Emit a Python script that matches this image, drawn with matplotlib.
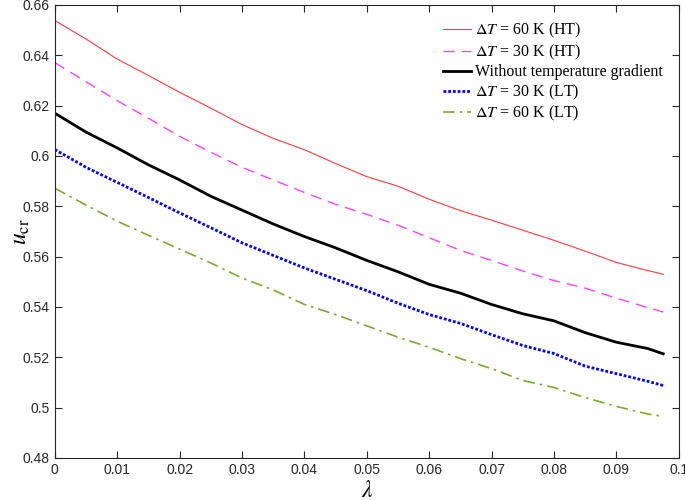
import matplotlib
matplotlib.use('Agg')
import matplotlib.pyplot as plt
import numpy as np

# Data
lam = [0, 0.005, 0.01, 0.015, 0.02, 0.025, 0.03, 0.035, 0.04, 0.045, 0.05,
       0.055, 0.06, 0.065, 0.07, 0.075, 0.08, 0.085, 0.09, 0.095, 0.0975]

ht60 = [0.6538, 0.6465, 0.6385, 0.632, 0.6253, 0.619, 0.6125, 0.607, 0.6025,
        0.597, 0.5918, 0.588, 0.5828, 0.5783, 0.5745, 0.5705, 0.5665, 0.5622,
        0.5577, 0.5545, 0.553]
ht30 = [0.6371, 0.6295, 0.622, 0.615, 0.6078, 0.6015, 0.5955, 0.5905, 0.5855,
        0.5808, 0.5768, 0.5725, 0.5675, 0.5625, 0.5585, 0.5543, 0.5505, 0.5475,
        0.5435, 0.5398, 0.538]
no_grad = [0.617, 0.6095, 0.6032, 0.5965, 0.5905, 0.584, 0.5785, 0.573, 0.568,
           0.5635, 0.5585, 0.554, 0.549, 0.5455, 0.541, 0.5373, 0.5345, 0.5298,
           0.526, 0.5235, 0.5214]
lt30 = [0.6026, 0.5955, 0.5895, 0.5835, 0.5774, 0.5715, 0.5655, 0.5605, 0.5555,
        0.551, 0.5465, 0.5415, 0.537, 0.5335, 0.529, 0.5247, 0.5215, 0.5165,
        0.5135, 0.5105, 0.5088]
lt60 = [0.5872, 0.5805, 0.5741, 0.5685, 0.563, 0.5575, 0.5515, 0.5468, 0.541,
        0.537, 0.5325, 0.528, 0.524, 0.5195, 0.5155, 0.5108, 0.508, 0.504,
        0.5005, 0.4975, 0.4965]

labels = [r'$\Delta T$ = 60 K (HT)', r'$\Delta T$ = 30 K (HT)',
          'Without temperature gradient',
          r'$\Delta T$ = 30 K (LT)', r'$\Delta T$ = 60 K (LT)']

plt.rcParams['mathtext.fontset'] = 'stix'

fig = plt.figure(figsize=(6.85, 5.0), dpi=100)
ax = fig.add_axes([0.080, 0.084, 0.911, 0.906])

ax.plot(lam, ht60, color='#ff3b3b', lw=0.8, label=labels[0])
ax.plot(lam, ht30, color='#ff44ff', lw=1.0, dashes=(8, 5), label=labels[1])
ax.plot(lam, no_grad, color='black', lw=2.0, label=labels[2])
ax.plot(lam, lt30, color='#0000ff', lw=2.0, linestyle=(0, (1, 0.7)), label=labels[3])
ax.plot(lam, lt60, color='#77ac30', lw=1.2, linestyle=(0, (7, 3, 1.5, 3)), label=labels[4])

ax.set_xlim(0, 0.1)
ax.set_ylim(0.48, 0.66)
ax.set_xticks(np.arange(0, 0.1001, 0.01))
ax.set_xticklabels(['0'] + ['%.2f' % v for v in np.arange(0.01, 0.095, 0.01)] + ['0.1'])
ax.set_yticks(np.arange(0.48, 0.6601, 0.02))
ax.set_yticklabels(['0.48', '0.5', '0.52', '0.54', '0.56', '0.58', '0.6', '0.62', '0.64', '0.66'])
ax.tick_params(direction='in', top=True, right=True, length=5, width=0.8,
               labelsize=10, colors='#262626')
for lbl in ax.get_xticklabels() + ax.get_yticklabels():
    lbl.set_family('Liberation Sans')
for s in ax.spines.values():
    s.set_color('#262626')
    s.set_linewidth(0.8)

ax.set_xlabel(r'$\lambda$', fontsize=17, labelpad=1)
ax.set_ylabel(r'$u_{\mathrm{cr}}$', fontsize=17)
ax.yaxis.set_label_coords(-0.036, 0.5)

leg = ax.legend(loc='upper right', frameon=False, handlelength=1.75,
                handletextpad=0.25, labelspacing=0.15, borderaxespad=0.6,
                prop={'family': 'Liberation Serif', 'size': 11.5})

fig.savefig('out.png', dpi=100)
